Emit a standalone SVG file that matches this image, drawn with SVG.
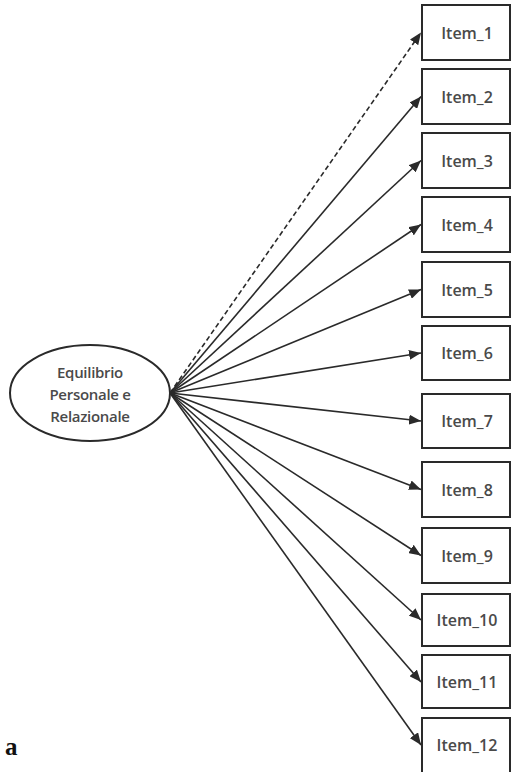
<svg xmlns="http://www.w3.org/2000/svg" width="512" height="772" viewBox="0 0 512 772">
<style>
.box{fill:#fff;stroke:#2a2a2a;stroke-width:2}
.lbl{font-family:"Open Sans","Liberation Sans",sans-serif;font-weight:600;fill:#4a4a4a;text-anchor:middle;dominant-baseline:central}
.it{font-size:16px}
.el{font-size:15px;letter-spacing:-0.3px}
.ln{stroke:#2a2a2a;stroke-width:1.6;fill:none;marker-end:url(#ah)}
</style>
<defs>
<marker id="ah" viewBox="0 0 12 10" refX="12" refY="5" markerWidth="12" markerHeight="10" markerUnits="userSpaceOnUse" orient="auto">
<path d="M0,0 L12,5 L0,10 z" fill="#2a2a2a"/>
</marker>
</defs>
<rect width="512" height="772" fill="#fff"/>
<g id="connectors">
<line class="ln" x1="170" y1="393" x2="421" y2="32.5" stroke-dasharray="5,3"/>
<line class="ln" x1="170" y1="393" x2="421" y2="96.5"/>
<line class="ln" x1="170" y1="393" x2="421" y2="160.5"/>
<line class="ln" x1="170" y1="393" x2="421" y2="224.5"/>
<line class="ln" x1="170" y1="393" x2="421" y2="289.5"/>
<line class="ln" x1="170" y1="393" x2="421" y2="353"/>
<line class="ln" x1="170" y1="393" x2="421" y2="421"/>
<line class="ln" x1="170" y1="393" x2="421" y2="489.5"/>
<line class="ln" x1="170" y1="393" x2="421" y2="555.5"/>
<line class="ln" x1="170" y1="393" x2="421" y2="620"/>
<line class="ln" x1="170" y1="393" x2="421" y2="682"/>
<line class="ln" x1="170" y1="393" x2="421" y2="745"/>
</g>
<g id="factor">
<ellipse cx="90" cy="393" rx="80" ry="48" fill="#fff" stroke="#2a2a2a" stroke-width="2"/>
<text class="lbl el" x="90" y="372">Equilibrio</text>
<text class="lbl el" x="90" y="394">Personale e</text>
<text class="lbl el" x="90" y="416">Relazionale</text>
</g>
<g id="item1"><rect class="box" x="422" y="5" width="88" height="55"/><text class="lbl it" x="467" y="33">Item_1</text></g>
<g id="item2"><rect class="box" x="422" y="69" width="88" height="55"/><text class="lbl it" x="467" y="97">Item_2</text></g>
<g id="item3"><rect class="box" x="422" y="133" width="88" height="55"/><text class="lbl it" x="467" y="161">Item_3</text></g>
<g id="item4"><rect class="box" x="422" y="197" width="88" height="55"/><text class="lbl it" x="467" y="225">Item_4</text></g>
<g id="item5"><rect class="box" x="422" y="262" width="88" height="55"/><text class="lbl it" x="467" y="290">Item_5</text></g>
<g id="item6"><rect class="box" x="422" y="326" width="88" height="54"/><text class="lbl it" x="467" y="353">Item_6</text></g>
<g id="item7"><rect class="box" x="422" y="394" width="88" height="54"/><text class="lbl it" x="467" y="421">Item_7</text></g>
<g id="item8"><rect class="box" x="422" y="462" width="88" height="55"/><text class="lbl it" x="467" y="490">Item_8</text></g>
<g id="item9"><rect class="box" x="422" y="528" width="88" height="55"/><text class="lbl it" x="467" y="556">Item_9</text></g>
<g id="item10"><rect class="box" x="422" y="594" width="88" height="52"/><text class="lbl it" x="467" y="620">Item_10</text></g>
<g id="item11"><rect class="box" x="422" y="655" width="88" height="53"/><text class="lbl it" x="467" y="682">Item_11</text></g>
<g id="item12"><rect class="box" x="422" y="718" width="88" height="55"/><text class="lbl it" x="467" y="745">Item_12</text></g>
<text x="5" y="755" font-family="'Liberation Serif',serif" font-weight="bold" font-size="25" fill="#111">a</text>
</svg>
